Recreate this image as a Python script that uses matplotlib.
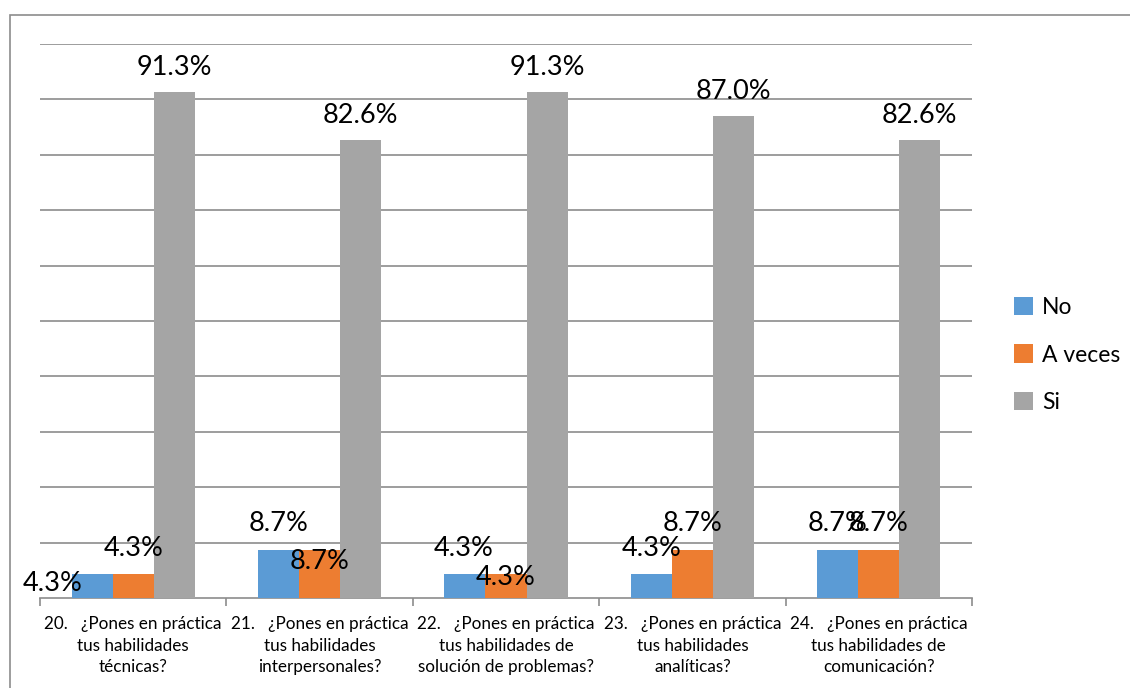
import matplotlib
matplotlib.use("Agg")
import matplotlib.pyplot as plt
import numpy as np
from matplotlib.patches import Rectangle

# Data (percent)
categories = [
    "20.   ¿Pones en práctica\ntus habilidades\ntécnicas?",
    "21.   ¿Pones en práctica\ntus habilidades\ninterpersonales?",
    "22.   ¿Pones en práctica\ntus habilidades de\nsolución de problemas?",
    "23.   ¿Pones en práctica\ntus habilidades\nanalíticas?",
    "24.   ¿Pones en práctica\ntus habilidades de\ncomunicación?",
]
series_names = ["No", "A veces", "Si"]
no_vals = [4.3, 8.7, 4.3, 4.3, 8.7]
aveces_vals = [4.3, 8.7, 4.3, 8.7, 8.7]
si_vals = [91.3, 82.6, 91.3, 87.0, 82.6]

colors = ["#5B9BD5", "#ED7D31", "#A5A5A5"]

# label offsets in pixels from the bar top (Excel moved some labels by hand)
label_offsets = [
    [(-40, -9), (0, 26), (-1, 26), (0, 26), (0, 26)],
    [(0, 26), (0, -12), (0, -3), (0, 26), (0, 26)],
    [(0, 25), (0, 25), (0, 25), (0, 25), (0, 25)],
]

plt.rcParams['font.family'] = ['Lato', 'DejaVu Sans']

fig = plt.figure(figsize=(11.3, 6.88), dpi=100)
ax = fig.add_axes([40 / 1130, 1 - 598 / 688, 932 / 1130, 554 / 688])

# outer chart frame
fig.patches.append(Rectangle((10 / 1130, -0.05), 1.0, 1 - 15 / 688 + 0.05,
                             transform=fig.transFigure, fill=False,
                             edgecolor="#8c8c8c", linewidth=1.2, zorder=0))

x = np.arange(len(categories))
w = 0.22
all_vals = [no_vals, aveces_vals, si_vals]
for i, (name, vals) in enumerate(zip(series_names, all_vals)):
    xs = x + (i - 1) * w
    ax.bar(xs, vals, width=w, color=colors[i], label=name, zorder=3)
    for j, v in enumerate(vals):
        dx, dy = label_offsets[i][j]
        ax.annotate(f"{v:.1f}%", (xs[j], v), xytext=(dx, dy),
                    textcoords="offset pixels", ha="center", va="center",
                    fontsize=19.5, color="black", zorder=4)

ax.set_xlim(-0.5, len(categories) - 0.5)
ax.set_ylim(0, 100)
ax.set_yticks(np.arange(10, 101, 10))
ax.yaxis.grid(True, color="#8c8c8c", linewidth=1.2, zorder=0)
ax.tick_params(axis="y", left=False, labelleft=False)

ax.set_xticks(np.arange(-0.5, len(categories), 1.0))
ax.set_xticklabels([])
ax.set_xticks(x, minor=True)
ax.set_xticklabels(categories, minor=True, fontsize=12.3, linespacing=1.42)
ax.tick_params(axis="x", which="major", length=6, color="#8c8c8c", width=1.2)
ax.tick_params(axis="x", which="minor", length=0, pad=13)

for s in ["top", "right", "left"]:
    ax.spines[s].set_visible(False)
ax.spines["bottom"].set_color("#8c8c8c")
ax.spines["bottom"].set_linewidth(1.2)

fig.legend(loc="center left", bbox_to_anchor=(993 / 1130, 1 - 355 / 688),
           frameon=False, fontsize=16.5, handlelength=0.85, handleheight=0.85,
           labelspacing=1.15, handletextpad=0.4)

fig.savefig("out.png", dpi=100)
